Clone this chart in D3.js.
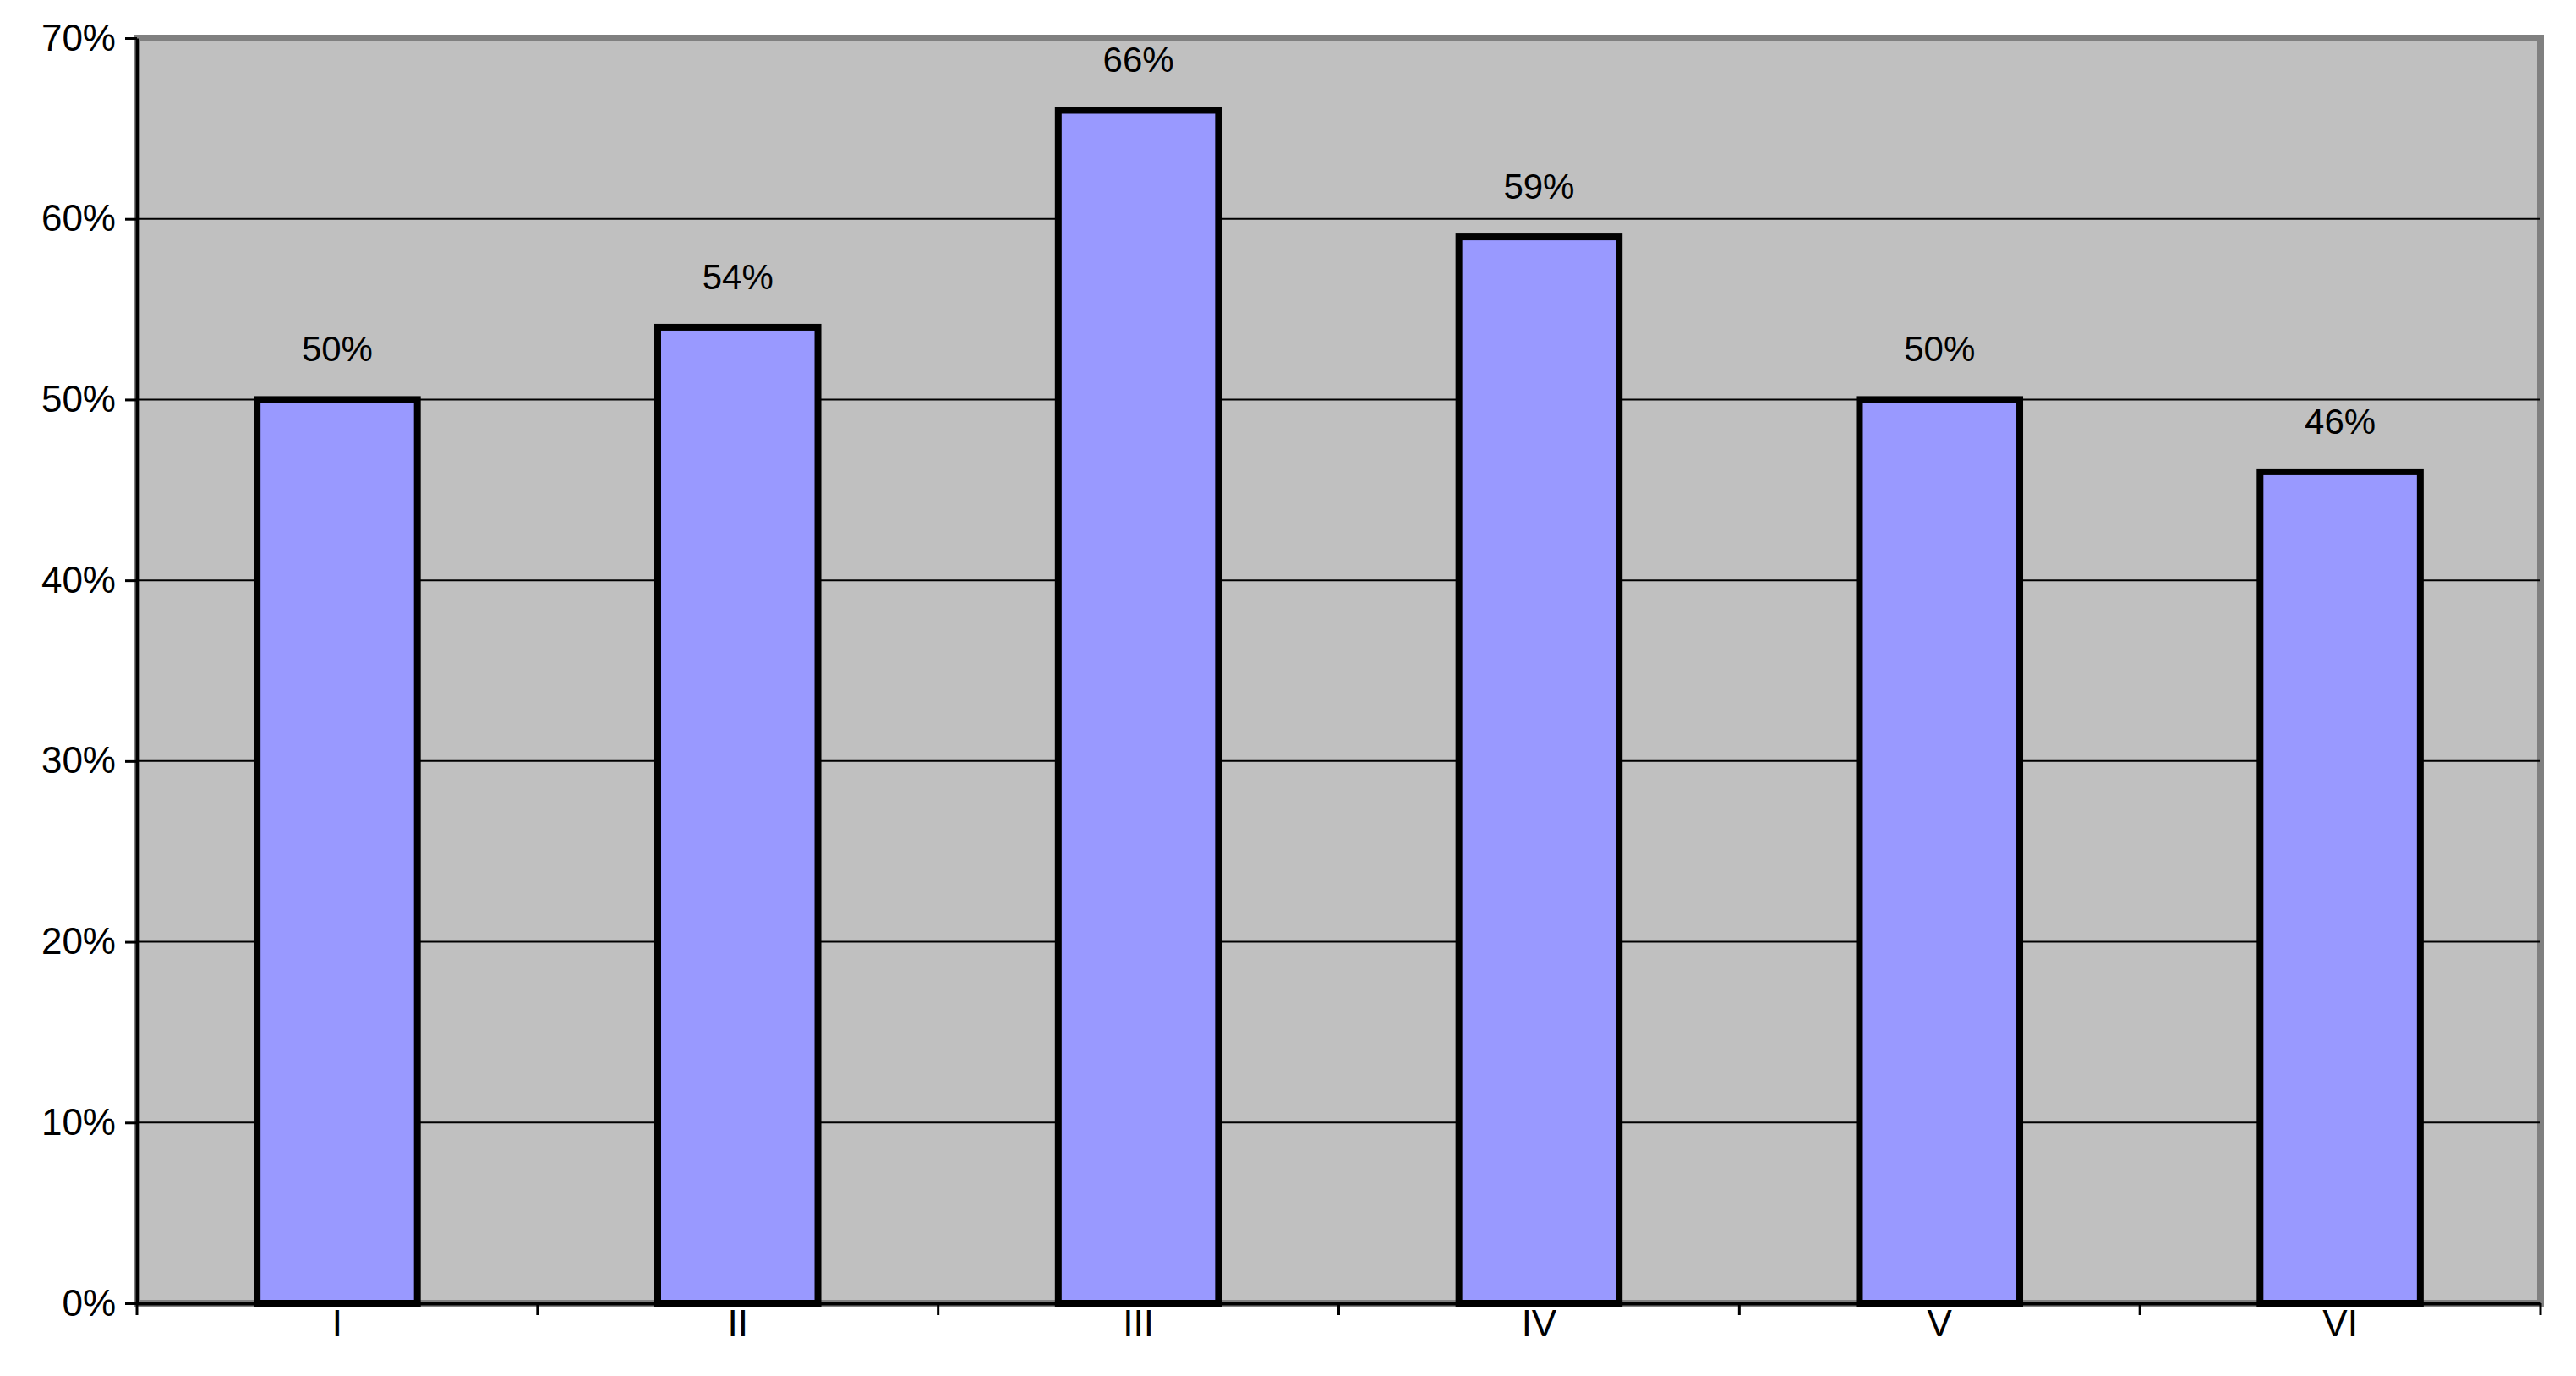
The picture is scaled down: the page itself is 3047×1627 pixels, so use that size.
<!DOCTYPE html>
<html><head><meta charset="utf-8">
<script src="https://cdn.jsdelivr.net/npm/d3@7"></script>
<style>body{margin:0;background:#fff}</style>
</head><body>
<svg width="3047" height="1627"></svg>
<script>
const categories = ["I", "II", "III", "IV", "V", "VI"];
const values = [0.50, 0.54, 0.66, 0.59, 0.50, 0.46];
const yTicks = [0, 0.1, 0.2, 0.3, 0.4, 0.5, 0.6, 0.7];

const svg = d3.select("svg");
const plotLeft = 162, plotRight = 3005, plotTop = 45, plotBottom = 1541;
const font = "Liberation Sans, Arial, sans-serif";

const x = d3.scaleBand().domain(categories).range([plotLeft, plotRight]).paddingInner(0.6).paddingOuter(0.3);
const xb = d3.scaleBand().domain(categories).range([plotLeft, plotRight]);
const y = d3.scaleLinear().domain([0, 0.7]).range([plotBottom, plotTop]);

// plot area
svg.append("rect").attr("x", plotLeft).attr("y", plotTop).attr("width", plotRight - plotLeft).attr("height", plotBottom - plotTop)
    .attr("fill", "#c0c0c0").attr("stroke", "#808080").attr("stroke-width", 8);

// grid
svg.append("g").selectAll("line").data(yTicks.slice(1, -1)).enter().append("line")
    .attr("x1", plotLeft).attr("x2", plotRight).attr("y1", d => y(d)).attr("y2", d => y(d))
    .attr("stroke", "#000").attr("stroke-width", 2);

// bars
svg.append("g").selectAll("rect").data(values).enter().append("rect")
    .attr("x", (d, i) => x(categories[i])).attr("width", x.bandwidth())
    .attr("y", d => y(d)).attr("height", d => y(0) - y(d))
    .attr("fill", "#9999ff").attr("stroke", "#000").attr("stroke-width", 8);

// value labels
svg.append("g").selectAll("text").data(values).enter().append("text")
    .attr("x", (d, i) => x(categories[i]) + x.bandwidth() / 2).attr("y", d => y(d) - 45)
    .attr("text-anchor", "middle").attr("font-family", font).attr("font-size", 42)
    .text(d => d3.format(".0%")(d));

// axes
const yAxis = d3.axisLeft(y).tickValues(yTicks).tickFormat(d3.format(".0%")).tickSize(14).tickSizeOuter(0);
const gY = svg.append("g").attr("transform", `translate(${plotLeft},0)`).call(yAxis);
gY.selectAll("text").attr("font-family", font).attr("font-size", 44).attr("dx", -8).attr("fill", "#000");

const xAxis = d3.axisBottom(xb).tickSize(0).tickSizeOuter(0);
const gX = svg.append("g").attr("transform", `translate(0,${plotBottom})`).call(xAxis);
gX.selectAll("text").attr("font-family", font).attr("font-size", 44).attr("dy", 36).attr("fill", "#000");
svg.append("g").selectAll("line").data(d3.range(categories.length + 1)).enter().append("line")
    .attr("x1", i => plotLeft + i * xb.bandwidth()).attr("x2", i => plotLeft + i * xb.bandwidth())
    .attr("y1", plotBottom).attr("y2", plotBottom + 14).attr("stroke", "#000").attr("stroke-width", 3);
svg.selectAll(".domain").attr("stroke-width", 4);
gY.selectAll(".tick line").attr("stroke-width", 3);
</script>
</body></html>
